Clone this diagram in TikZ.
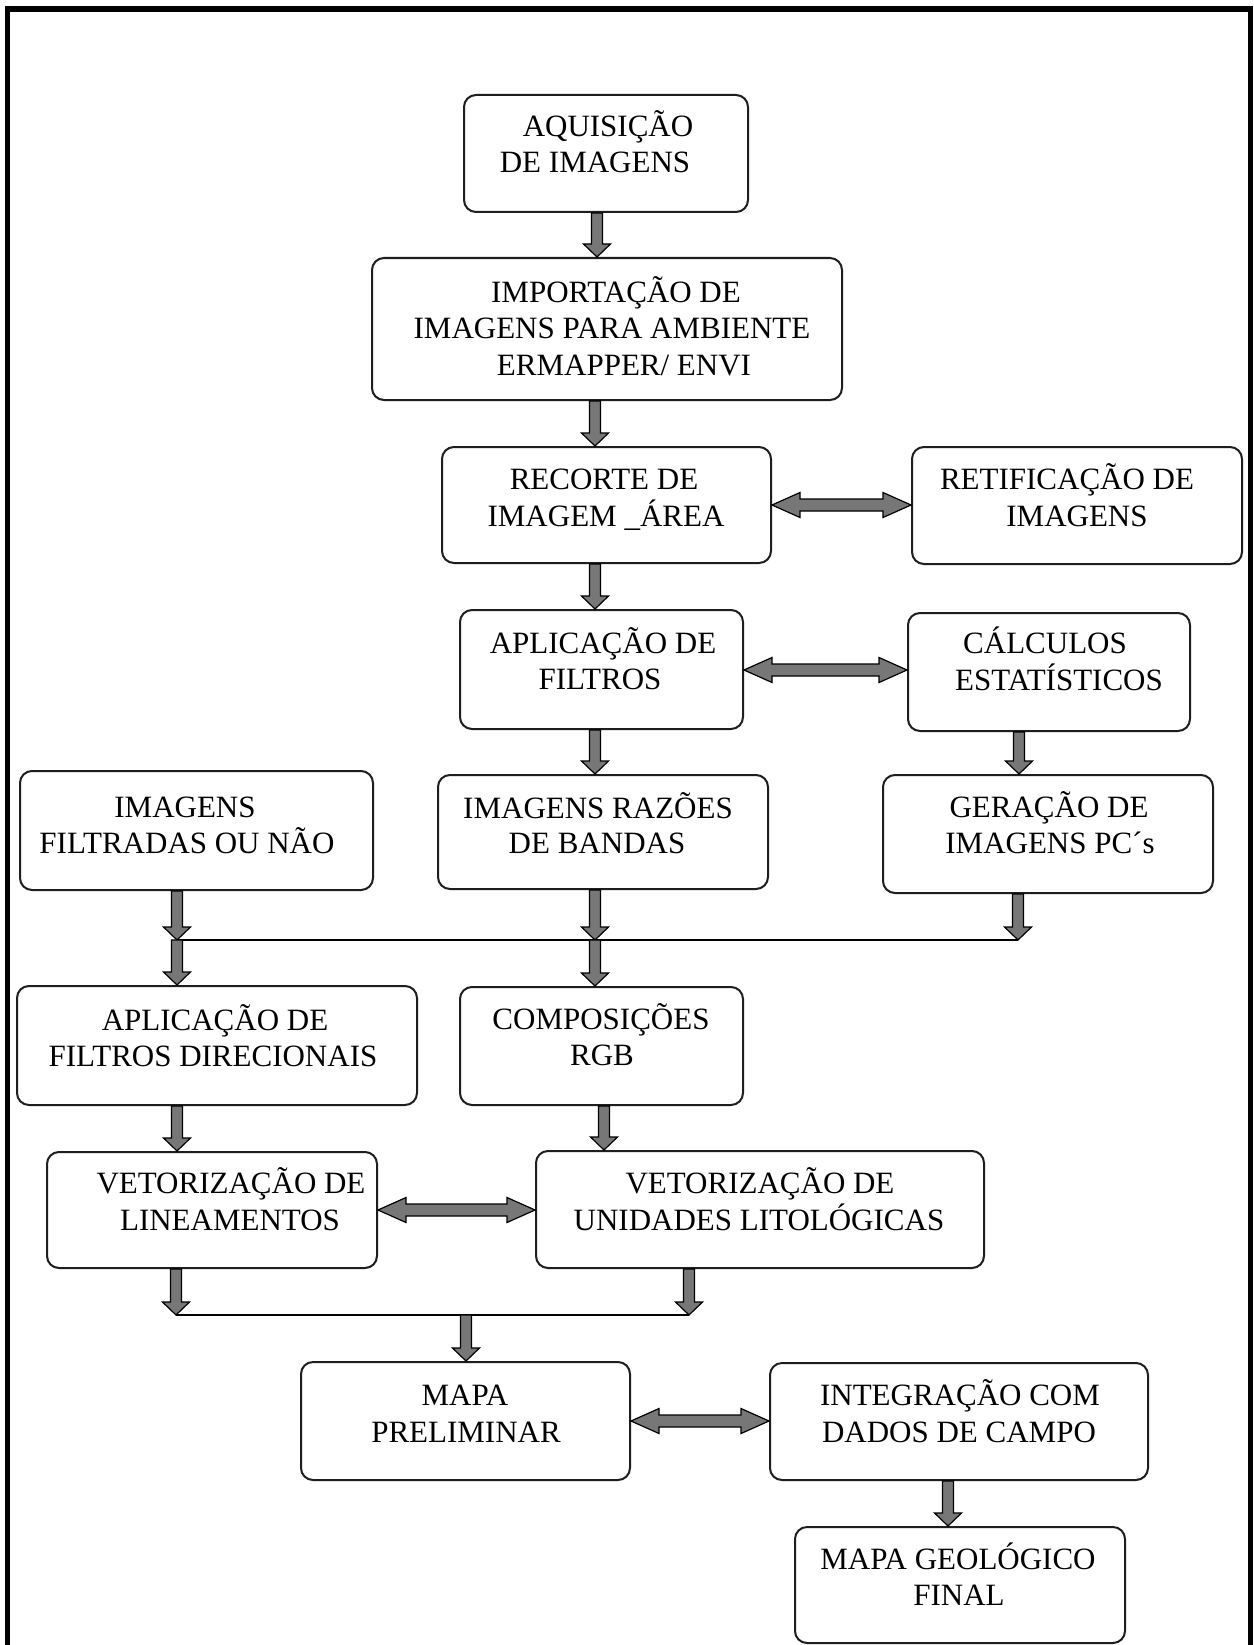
\documentclass[tikz,border=0pt]{standalone}
\usepackage{fontspec}
\setmainfont{Liberation Serif}
\usetikzlibrary{calc}
\definecolor{arrgray}{HTML}{777777}
\definecolor{edge}{HTML}{1E1E1E}
\tikzset{
  box/.style={draw=edge, line width=2pt, rounded corners=12pt, fill=white, inner sep=0pt},
  tl/.style={anchor=base, inner sep=0pt, font=\fontsize{31}{37}\selectfont},
  blk/.style={fill=arrgray, draw=black, line width=1.2pt, line join=miter},
  joinline/.style={draw=black, line width=1.5pt},
  frame/.style={draw=black}
}
% box from corners
\newcommand\bx[5]{%
  \pgfmathsetmacro\bcx{(#2+#4)/2}\pgfmathsetmacro\bcy{(#3+#5)/2}%
  \pgfmathsetmacro\bww{#4-#2}\pgfmathsetmacro\bhh{#5-#3}%
  \node[box, minimum width=\bww pt, minimum height=\bhh pt] (#1) at (\bcx,\bcy) {};}
% downward block arrow at x=#1 from #2 to #3
\newcommand\dnarr[3]{%
  \coordinate (tx) at (#1,0);
  \path (#2 -| tx) coordinate (aa) (#3 -| tx) coordinate (bb);
  \filldraw[blk] ($(aa)+(-5.5,0)$) -- ($(bb)+(-5.5,-13)$) -- ($(bb)+(-13.5,-13)$) -- (bb)
     -- ($(bb)+(13.5,-13)$) -- ($(bb)+(5.5,-13)$) -- ($(aa)+(5.5,0)$) -- cycle;}
% horizontal double block arrow between #1 and #2 at y=#3
\newcommand\hdarr[3]{%
  \coordinate (ty) at (0,#3);
  \path (#1 |- ty) coordinate (aa) (#2 |- ty) coordinate (bb);
  \filldraw[blk] (aa) -- ($(aa)+(28,-12.5)$) -- ($(aa)+(28,-6)$) -- ($(bb)+(-28,-6)$)
     -- ($(bb)+(-28,-12.5)$) -- (bb) -- ($(bb)+(-28,12.5)$) -- ($(bb)+(-28,6)$)
     -- ($(aa)+(28,6)$) -- ($(aa)+(28,12.5)$) -- cycle;}
\begin{document}
\begin{tikzpicture}[x=1pt, y=-1pt]
\useasboundingbox (0,0) rectangle (1253,1645);
\fill[white] (0,0) rectangle (1253,1645);
% outer frame
\draw[frame, line width=6pt] (4.5,9) -- (1253,9);
\draw[frame, line width=5.5pt] (7.5,6) -- (7.5,1645);
\draw[frame, line width=5.5pt] (1250.5,6) -- (1250.5,1645);

% boxes
\bx{aq}{464}{95}{748}{212}
\bx{imp}{372}{258}{842}{400}
\bx{rec}{442}{447}{771}{563}
\bx{ret}{912}{447}{1242}{564}
\bx{apf}{460}{610}{743}{729}
\bx{cal}{908}{613}{1190}{731}
\bx{irb}{438}{775}{768}{889}
\bx{ifn}{20}{771}{373}{890}
\bx{ger}{883}{775}{1213}{893}
\bx{afd}{17}{986}{417}{1105}
\bx{crgb}{460}{987}{743}{1105}
\bx{vlin}{47}{1152}{377}{1268}
\bx{vul}{536}{1151}{984}{1268}
\bx{mp}{301}{1362}{630}{1480}
\bx{int}{770}{1363}{1148}{1480}
\bx{mgf}{795}{1527}{1125}{1643}

% texts
\node[tl] (aq-1) at (608,137) {AQUISIÇÃO};
\node[tl] (aq-2) at (595,173) {DE IMAGENS};
\node[tl] (imp-1) at (616,302) {IMPORTAÇÃO DE};
\node[tl] (imp-2) at (612,338) {IMAGENS PARA AMBIENTE};
\node[tl] (imp-3) at (624,375) {ERMAPPER/ ENVI};
\node[tl] (rec-1) at (604,489) {RECORTE DE};
\node[tl] (rec-2) at (606,526) {IMAGEM \_ÁREA};
\node[tl] (ret-1) at (1067,489) {RETIFICAÇÃO DE};
\node[tl] (ret-2) at (1077,526) {IMAGENS};
\node[tl] (apf-1) at (603,653) {APLICAÇÃO DE};
\node[tl] (apf-2) at (600,689) {FILTROS};
\node[tl] (cal-1) at (1045,653) {CÁLCULOS};
\node[tl] (cal-2) at (1059,690) {ESTATÍSTICOS};
\node[tl] (irb-1) at (598,818) {IMAGENS RAZÕES};
\node[tl] (irb-2) at (597,853) {DE BANDAS};
\node[tl] (ifn-1) at (185,817) {IMAGENS};
\node[tl] (ifn-2) at (187,853) {FILTRADAS OU NÃO};
\node[tl] (ger-1) at (1049,817) {GERAÇÃO DE};
\node[tl] (ger-2) at (1050,853) {IMAGENS PC´s};
\node[tl] (afd-1) at (215,1030) {APLICAÇÃO DE};
\node[tl] (afd-2) at (213,1066) {FILTROS DIRECIONAIS};
\node[tl] (crgb-1) at (601,1029) {COMPOSIÇÕES};
\node[tl] (crgb-2) at (602,1065) {RGB};
\node[tl] (vlin-1) at (231,1193) {VETORIZAÇÃO DE};
\node[tl] (vlin-2) at (230,1230) {LINEAMENTOS};
\node[tl] (vul-1) at (760,1193) {VETORIZAÇÃO DE};
\node[tl] (vul-2) at (759,1230) {UNIDADES LITOLÓGICAS};
\node[tl] (mp-1) at (465,1405) {MAPA};
\node[tl] (mp-2) at (466,1442) {PRELIMINAR};
\node[tl] (int-1) at (960,1405) {INTEGRAÇÃO COM};
\node[tl] (int-2) at (959,1442) {DADOS DE CAMPO};
\node[tl] (mgf-1) at (958,1569) {MAPA GEOLÓGICO};
\node[tl] (mgf-2) at (959,1605) {FINAL};

% join lines
\coordinate (j1l) at (177,940);
\coordinate (j1r) at (1018,940);
\coordinate (j2l) at (176,1315);
\coordinate (j2r) at (689,1315);
\draw[joinline] (j1l) -- (j1r);
\draw[joinline] (j2l) -- (j2r);

% downward arrows
\dnarr{597}{aq.south}{imp.north}
\dnarr{595}{imp.south}{rec.north}
\dnarr{595}{rec.south}{apf.north}
\dnarr{595}{apf.south}{irb.north}
\dnarr{1019}{cal.south}{ger.north}
\dnarr{177}{ifn.south}{j1l}
\dnarr{595}{irb.south}{j1l}
\dnarr{1018}{ger.south}{j1r}
\dnarr{177}{j1l}{afd.north}
\dnarr{595}{j1l}{crgb.north}
\dnarr{177}{afd.south}{vlin.north}
\dnarr{604}{crgb.south}{vul.north}
\dnarr{176}{vlin.south}{j2l}
\dnarr{689}{vul.south}{j2r}
\dnarr{466}{j2l}{mp.north}
\dnarr{948}{int.south}{mgf.north}

% double arrows
\hdarr{rec.east}{ret.west}{505}
\hdarr{apf.east}{cal.west}{670}
\hdarr{vlin.east}{vul.west}{1210}
\hdarr{mp.east}{int.west}{1421}
\end{tikzpicture}
\end{document}
